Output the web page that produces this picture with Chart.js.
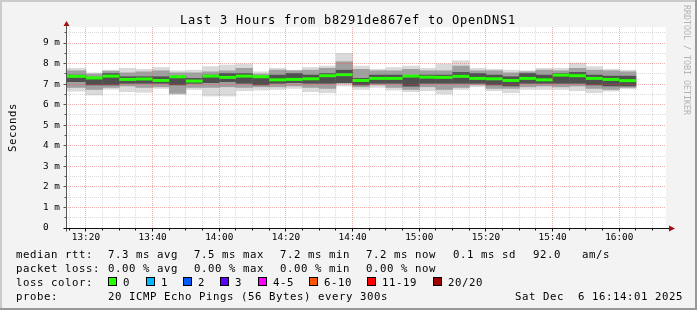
<!DOCTYPE html>
<html>
<head>
<meta charset="utf-8">
<title>Last 3 Hours from b8291de867ef to OpenDNS1</title>
<script src="https://cdn.jsdelivr.net/npm/chart.js@4.4.1/dist/chart.umd.min.js"></script>
<style>
  html, body { margin: 0; padding: 0; background: #f3f3f3; }
  canvas { display: block; }
</style>
</head>
<body>
<canvas id="myChart" width="697" height="310"></canvas>
<script>
// 5 minute slots (start time), first one is only partly visible
const slotStart = ['13:10', '13:15', '13:20', '13:25', '13:30', '13:35', '13:40', '13:45', '13:50', '13:55',
  '14:00', '14:05', '14:10', '14:15', '14:20', '14:25', '14:30', '14:35', '14:40', '14:45',
  '14:50', '14:55', '15:00', '15:05', '15:10', '15:15', '15:20', '15:25', '15:30', '15:35',
  '15:40', '15:45', '15:50', '15:55', '16:00']

// values in ms
const median = [7.38, 7.38, 7.30, 7.39, 7.23, 7.25, 7.18, 7.36, 7.15, 7.39, 7.33, 7.39, 7.36, 7.21, 7.23, 7.26, 7.41, 7.46,
  7.18, 7.28, 7.28, 7.39, 7.34, 7.33, 7.38, 7.28, 7.26, 7.18, 7.28, 7.21, 7.44, 7.41, 7.28, 7.23, 7.17]
const outerHi = [7.77, 7.77, 7.55, 7.68, 7.77, 7.72, 7.81, 7.65, 7.68, 7.85, 7.93, 7.98, 7.60, 7.77, 7.68, 7.81, 7.88, 8.50,
  7.88, 7.72, 7.81, 7.88, 7.77, 7.98, 8.14, 7.77, 7.72, 7.68, 7.65, 7.77, 7.77, 8.03, 7.85, 7.72, 7.68]
const outerLo = [6.66, 6.66, 6.47, 6.75, 6.63, 6.60, 6.79, 6.50, 6.74, 6.42, 6.42, 6.68, 6.71, 6.74, 6.79, 6.63, 6.58, 6.91,
  6.74, 6.84, 6.71, 6.63, 6.68, 6.52, 6.74, 6.87, 6.68, 6.58, 6.74, 6.74, 6.74, 6.68, 6.58, 6.66, 6.77]
const midHi = [7.65, 7.65, 7.49, 7.63, 7.55, 7.60, 7.65, 7.55, 7.55, 7.60, 7.65, 7.77, 7.49, 7.68, 7.65, 7.68, 7.77, 8.09,
  7.72, 7.65, 7.65, 7.72, 7.65, 7.65, 7.88, 7.65, 7.65, 7.55, 7.60, 7.68, 7.65, 7.77, 7.68, 7.65, 7.60]
const midLo = [6.84, 6.84, 6.74, 6.84, 6.91, 6.84, 6.87, 6.55, 6.84, 6.84, 6.87, 6.84, 6.87, 6.87, 6.91, 6.84, 6.79, 7.04,
  6.87, 6.96, 6.84, 6.74, 6.87, 6.74, 6.84, 6.96, 6.79, 6.79, 6.87, 6.91, 6.87, 6.91, 6.79, 6.74, 6.84]
const coreHi = [7.44, 7.44, 7.33, 7.52, 7.36, 7.36, 7.36, 7.36, 7.28, 7.44, 7.52, 7.52, 7.36, 7.44, 7.52, 7.44, 7.52, 7.68,
  7.28, 7.44, 7.44, 7.41, 7.44, 7.44, 7.57, 7.52, 7.44, 7.36, 7.52, 7.44, 7.52, 7.57, 7.44, 7.39, 7.39]
const coreLo = [7.12, 7.12, 6.96, 6.96, 7.04, 7.04, 7.04, 6.96, 7.04, 7.07, 7.12, 7.04, 6.96, 7.04, 7.07, 7.04, 7.04, 7.07,
  6.96, 7.04, 7.04, 6.90, 7.04, 7.04, 7.04, 7.04, 6.96, 6.91, 7.04, 7.04, 7.04, 7.04, 6.96, 6.91, 6.91]

const xTickLabels = ['13:20', '13:40', '14:00', '14:20', '14:40', '15:00', '15:20', '15:40', '16:00']
const yTickLabels = ['0  ', '1 m', '2 m', '3 m', '4 m', '5 m', '6 m', '7 m', '8 m', '9 m']
const startTime = '13:14:01'
const endTime = '16:14:01'
const yMax = 9.78

const titleText = 'Last 3 Hours from b8291de867ef to OpenDNS1'
const rttLabel = 'median rtt:'
const rttStats = ['7.3 ms avg', '7.5 ms max', '7.2 ms min', '7.2 ms now', '0.1 ms sd', '92.0', 'am/s']
const lossLabel = 'packet loss:'
const lossStats = ['0.00 % avg', '0.00 % max', '0.00 % min', '0.00 % now']
const colorLabel = 'loss color:'
const lossLabels = ['0', '1', '2', '3', '4-5', '6-10', '11-19', '20/20']
const lossColors = ['#26ff00', '#00b8ff', '#0059ff', '#5e00ff', '#ff00ff', '#ff5500', '#ff0000', '#a10000']
const probeLabel = 'probe:'
const probeText = '20 ICMP Echo Pings (56 Bytes) every 300s'
const stampText = 'Sat Dec  6 16:14:01 2025'

const MONO = 'DejaVu Sans Mono'
const MAJOR_GRID = 'rgba(222,80,80,0.45)'
const MINOR_GRID = 'rgba(143,143,143,0.32)'

function toMin(t) {
  const p = t.split(':').map(Number)
  return p[0] * 60 + p[1] + (p[2] || 0) / 60
}

function bandData(lo, hi) {
  let result = []
  for (let i = 0; i < slotStart.length; i++) {
    result.push({ x: toMin(slotStart[i]) + 2.5, y: [lo[i], hi[i]] })
  }
  return result
}

function medianData() {
  let result = []
  for (let i = 0; i < slotStart.length; i++) {
    result.push({ x: toMin(slotStart[i]) + 2.5, y: median[i] })
  }
  return result
}

// draw text char by char on a fixed cell width, like rrdtool does
function drawMono(ctx, text, x, y, cell) {
  for (let i = 0; i < text.length; i++) {
    ctx.fillText(text[i], x + i * cell, y)
  }
}

const smokeGrid = {
  id: 'smokeGrid',
  beforeDatasetsDraw(chart) {
    const { ctx, chartArea: a } = chart
    ctx.save()
    ctx.fillStyle = '#ffffff'
    ctx.fillRect(a.left, a.top, a.right - a.left, a.bottom - a.top)
    ctx.restore()
  },
  afterDatasetsDraw(chart) {
    const { ctx, chartArea: a } = chart
    const x = chart.scales.x
    const y = chart.scales.y
    ctx.save()
    ctx.lineWidth = 1
    ctx.setLineDash([1, 1])
    for (let t = Math.ceil(x.min / 5) * 5; t <= x.max; t += 5) {
      const px = Math.floor(x.getPixelForValue(t)) + 0.5
      ctx.strokeStyle = t % 20 === 0 ? MAJOR_GRID : MINOR_GRID
      ctx.beginPath()
      ctx.moveTo(px, a.top)
      ctx.lineTo(px, a.bottom)
      ctx.stroke()
    }
    for (let v = 0.5; v <= y.max; v += 0.5) {
      const py = Math.floor(y.getPixelForValue(v)) + 0.5
      ctx.strokeStyle = v % 1 === 0 ? MAJOR_GRID : MINOR_GRID
      ctx.beginPath()
      ctx.moveTo(a.left, py)
      ctx.lineTo(a.right, py)
      ctx.stroke()
    }
    ctx.setLineDash([])

    // axes
    const ax = Math.floor(a.left) + 0.5
    const ay = Math.floor(a.bottom) + 0.5
    ctx.strokeStyle = '#555555'
    ctx.beginPath()
    ctx.moveTo(ax, ay + 3)
    ctx.lineTo(ax, a.top - 5)
    ctx.stroke()
    for (let v = 0.5; v <= y.max; v += 0.5) {
      const py = Math.floor(y.getPixelForValue(v)) + 0.5
      ctx.beginPath()
      ctx.moveTo(ax - (v % 1 === 0 ? 3 : 2), py)
      ctx.lineTo(ax, py)
      ctx.stroke()
    }
    ctx.strokeStyle = '#111111'
    ctx.beginPath()
    ctx.moveTo(ax - 3, ay)
    ctx.lineTo(a.right + 4, ay)
    ctx.stroke()
    for (let t = Math.ceil(x.min / 5) * 5; t <= x.max; t += 5) {
      const px = Math.floor(x.getPixelForValue(t)) + 0.5
      ctx.beginPath()
      ctx.moveTo(px, ay)
      ctx.lineTo(px, ay + (t % 20 === 0 ? 3 : 2))
      ctx.stroke()
    }
    ctx.fillStyle = '#a01010'
    ctx.beginPath()
    ctx.moveTo(ax - 3, a.top - 1)
    ctx.lineTo(ax + 3, a.top - 1)
    ctx.lineTo(ax, a.top - 6)
    ctx.closePath()
    ctx.fill()
    ctx.beginPath()
    ctx.moveTo(a.right + 3, ay - 3)
    ctx.lineTo(a.right + 3, ay + 3)
    ctx.lineTo(a.right + 9, ay)
    ctx.closePath()
    ctx.fill()
    ctx.restore()
  },
  afterDraw(chart) {
    const ctx = chart.ctx
    ctx.save()
    ctx.fillStyle = '#000000'
    ctx.textBaseline = 'alphabetic'
    ctx.textAlign = 'left'

    ctx.font = '12px ' + MONO
    drawMono(ctx, titleText, 348 - titleText.length * 4, 24, 8)

    ctx.font = '10.7px ' + MONO
    ctx.save()
    ctx.translate(16, 127.5)
    ctx.rotate(-Math.PI / 2)
    drawMono(ctx, 'Seconds', -24.5, 0, 7)
    ctx.restore()

    drawMono(ctx, rttLabel, 16, 258, 7)
    const rttX = [108, 194, 280, 366, 453, 533, 582]
    rttStats.forEach((s, i) => drawMono(ctx, s, rttX[i], 258, 7))

    drawMono(ctx, lossLabel, 16, 272, 7)
    const lossX = [108, 194, 280, 366]
    lossStats.forEach((s, i) => drawMono(ctx, s, lossX[i], 272, 7))

    drawMono(ctx, colorLabel, 16, 286, 7)
    const boxX = [108, 146, 183, 220, 258, 309, 367, 433]
    for (let i = 0; i < lossLabels.length; i++) {
      ctx.fillStyle = '#000000'
      ctx.fillRect(boxX[i], 277, 9, 9)
      ctx.fillStyle = lossColors[i]
      ctx.fillRect(boxX[i] + 1, 278, 7, 7)
      ctx.fillStyle = '#000000'
      drawMono(ctx, lossLabels[i], boxX[i] + 15, 286, 7)
    }

    drawMono(ctx, probeLabel, 16, 300, 7)
    drawMono(ctx, probeText, 108, 300, 7)
    drawMono(ctx, stampText, 683 - stampText.length * 7, 300, 7)

    // watermark
    ctx.fillStyle = '#b4b4b4'
    ctx.font = '8.3px ' + MONO
    ctx.save()
    ctx.translate(684, 5)
    ctx.rotate(Math.PI / 2)
    drawMono(ctx, 'RRDTOOL / TOBI OETIKER', 0, 0, 5)
    ctx.restore()

    // frame
    ctx.fillStyle = '#cbcbcb'
    ctx.fillRect(0, 0, 697, 2)
    ctx.fillRect(0, 0, 2, 310)
    ctx.fillStyle = '#999999'
    ctx.fillRect(0, 308, 697, 2)
    ctx.fillRect(695, 0, 2, 310)
    ctx.restore()
  }
}

function bandSet(label, lo, hi, color, order) {
  return {
    type: 'bar',
    label: label,
    data: bandData(lo, hi),
    backgroundColor: color,
    borderWidth: 0,
    grouped: false,
    barPercentage: 1,
    categoryPercentage: 1,
    order: order,
    clip: 0,
  }
}

const scorelistChart = document.getElementById('myChart')

new Chart(scorelistChart, {
  type: 'bar',
  data: {
    datasets: [
      {
        type: 'line',
        label: 'median rtt',
        data: medianData(),
        showLine: false,
        pointStyle: 'line',
        pointRadius: (c) => {
          const s = c.chart.scales.x
          return (s.getPixelForValue(5) - s.getPixelForValue(0)) / 2
        },
        pointBorderColor: '#26ff00',
        pointBorderWidth: 3,
        order: 0,
        clip: 0,
      },
      bandSet('core', coreLo, coreHi, '#505050', 1),
      bandSet('mid', midLo, midHi, '#a0a0a0', 2),
      bandSet('outer', outerLo, outerHi, '#dadada', 3),
    ],
  },
  options: {
    responsive: false,
    devicePixelRatio: 1,
    animation: false,
    events: [],
    layout: { padding: { left: 0, top: 27, right: 31, bottom: 0 } },
    plugins: {
      legend: { display: false },
      tooltip: { enabled: false },
    },
    scales: {
      x: {
        type: 'linear',
        offset: false,
        min: toMin(startTime),
        max: toMin(endTime),
        grid: { display: false, drawTicks: false, offset: false },
        border: { display: false },
        afterBuildTicks: (scale) => {
          scale.ticks = xTickLabels.map((t) => ({ value: toMin(t) }))
        },
        afterFit: (scale) => { scale.height = 82 },
        ticks: {
          autoSkip: false,
          maxRotation: 0,
          padding: 4,
          color: '#000000',
          font: { family: MONO, size: 9.4 },
          callback: (value, index) => xTickLabels[index],
        },
      },
      y: {
        min: 0,
        max: yMax,
        grid: { display: false, drawTicks: false },
        border: { display: false },
        afterBuildTicks: (scale) => {
          scale.ticks = yTickLabels.map((t, i) => ({ value: i }))
        },
        afterFit: (scale) => { scale.width = 66 },
        ticks: {
          padding: 6,
          color: '#000000',
          font: { family: MONO, size: 9.4 },
          callback: (value, index) => yTickLabels[index],
        },
      },
    },
  },
  plugins: [smokeGrid],
})
</script>
</body>
</html>
